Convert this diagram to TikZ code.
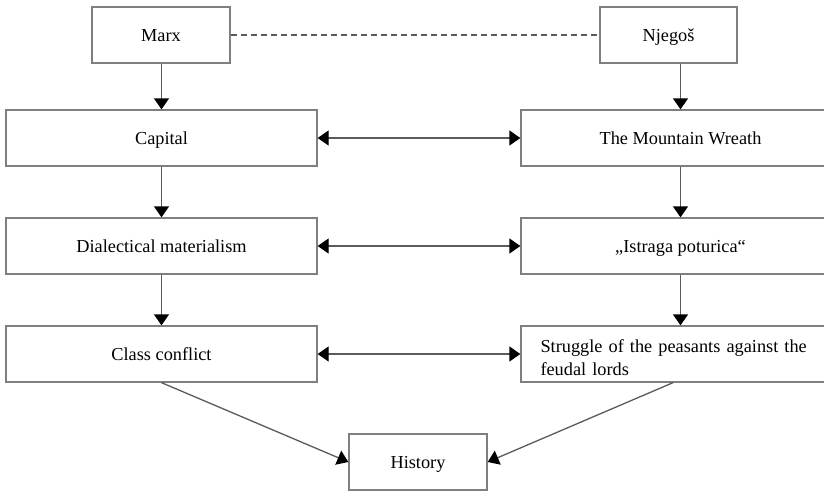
\documentclass[tikz,border=0pt]{standalone}
\usepackage{fontspec}
\setmainfont{Liberation Serif}
\usetikzlibrary{arrows.meta}
\begin{document}
\begin{tikzpicture}[x=1pt,y=-1pt,
  box/.style={draw=boxgray, line width=1.3pt, minimum height=56pt, inner sep=0pt,
    text height=16pt, text depth=3pt, font=\fontsize{18.3}{23}\selectfont},
  colbox/.style={box, minimum width=311pt},
  rcolbox/.style={box, minimum width=319pt},
  conn/.style={draw=linegray, line width=1.3pt, -{Triangle[width=15pt,length=11pt,color=black]}},
  bidir/.style={draw=linegray, line width=1.3pt, {Triangle[width=15pt,length=11pt,color=black]}-{Triangle[width=15pt,length=11pt,color=black]}},
  dashconn/.style={draw=linegray, line width=1.1pt, dash pattern=on 6pt off 4pt}
]
\definecolor{boxgray}{HTML}{7F7F7F}
\definecolor{linegray}{HTML}{5A5A5A}
\useasboundingbox (0,0) rectangle (824,491);

\node[box, minimum width=138pt] (marx) at (161,35) {Marx};
\node[box, minimum width=137pt] (njegos) at (668.5,35) {Njegoš};

\node[colbox] (capital) at (161.5,138) {Capital};
\node[rcolbox] (wreath) at (680.5,138) {The Mountain Wreath};

\node[colbox] (dial) at (161.5,246) {Dialectical materialism};
\node[rcolbox] (istraga) at (680.5,246) {„Istraga poturica“};

\node[colbox] (class) at (161.5,354) {Class conflict};
\node[rcolbox, text height=, text depth=, text width=280pt, inner xsep=19.5pt, inner ysep=0pt, align=left] (struggle) at (680.5,354)
  {\rule{0pt}{20pt}Struggle of the peasants against the\\ feudal lords};

\node[box, minimum width=138pt] (history) at (418,462) {History};

\draw[dashconn] (marx.east) -- (njegos.west);

\draw[conn] (capital.north |- marx.south) -- (capital.north);
\draw[conn] (wreath.north |- njegos.south) -- (wreath.north);
\draw[conn] (capital.south) -- (dial.north);
\draw[conn] (wreath.south) -- (istraga.north);
\draw[conn] (dial.south) -- (class.north);
\draw[conn] (istraga.south) -- (struggle.north);

\draw[bidir] (capital.east) -- (wreath.west);
\draw[bidir] (dial.east) -- (istraga.west);
\draw[bidir] (class.east) -- (struggle.west);

\draw[conn] (class.south) -- (history.west);
\draw[conn] ([xshift=-7.5pt]struggle.south) -- (history.east);
\end{tikzpicture}
\end{document}
